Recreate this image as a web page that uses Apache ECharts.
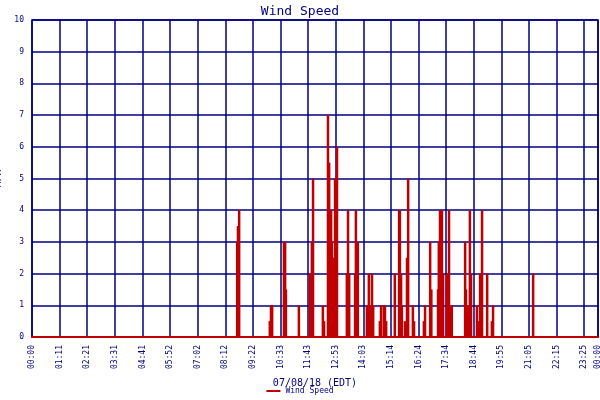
<!DOCTYPE html>
<html>
<head>
<meta charset="utf-8">
<script src="https://cdn.jsdelivr.net/npm/echarts@6/dist/echarts.min.js"></script>
<style>html,body{margin:0;padding:0;background:#fff}#chart{width:600px;height:400px}</style>
</head>
<body>
<div id="chart"></div>
<script>
// minutes after midnight, 07/08/18
var times = [522,524,527, 605,608,611, 641,644,646, 679, 707,710,712,715, 740,743,
    753,756,758,761,763,766,768,771,774,776, 801,804,807, 822,824,827,829,
    852,855,857,860,865,868, 885,888,895,898,901,
    923,934,936,939,941,949,954,956,957, 969,972, 997,1000, 1013,1016,
    1033,1035,1038,1040,1043,1046, 1056,1058,1061,1063,1066,1068,
    1102,1104, 1109,1112,1114,1117, 1132,1135,1140,1142,1145, 1158, 1170,1173, 1275];
var speeds = [3,3.5,4, 0.5,1,1, 3,3,1.5, 1, 2,1,3,5, 1,0.5,
    7,5.5,2,4,3,0.5,2.5,5,3,6, 2,4,2, 2,4,1.5,3,
    1,0.5,2,1,2,1, 0.5,1,1,1,0.5,
    2,4,4,2,1,0.5,2.5,1.5,5, 1,0.5, 0.5,1, 3,1.5,
    1.5,3,4,1.5,4,2, 2,2,4,1,0.5,1,
    3,1.5, 1,1,4,2, 1,0.5,2,2,4, 2, 0.5,1, 2];

var navy = '#000080';
var font = 'DejaVu Sans Mono';
var step = 1440 / 20.5;

function pad(n) { return (n < 10 ? '0' : '') + n; }

var data = [];
for (var i in times) {
    data.push([times[i], speeds[i]]);
}

var chart = echarts.init(document.getElementById('chart'));
chart.setOption({
    backgroundColor: '#fff',
    animation: false,
    title: {
        text: 'Wind Speed', left: 'center', top: 0,
        textStyle: {color: navy, fontFamily: font, fontSize: 13, fontWeight: 'normal'}
    },
    legend: {
        bottom: 0, left: 'center', itemWidth: 14, itemHeight: 2,
        icon: 'rect',
        textStyle: {color: navy, fontFamily: font, fontSize: 8},
        data: ['Wind Speed']
    },
    grid: {left: 32, right: 2, top: 20, bottom: 63, containLabel: false, outerBoundsMode: 'none',
        show: true, borderColor: navy, borderWidth: 1.5},
    xAxis: {
        type: 'value', min: 0, max: 1440, interval: step,
        name: '07/08/18 (EDT)', nameLocation: 'middle', nameGap: 41,
        nameTextStyle: {color: navy, fontFamily: font, fontSize: 10},
        axisLine: {lineStyle: {color: '#c00000', width: 2}},
        axisTick: {show: false},
        axisLabel: {
            rotate: 90, color: navy, fontFamily: font, fontSize: 8, showMaxLabel: true,
            formatter: function(v) {
                var m = Math.ceil(v - 0.01) % 1440;
                return pad(Math.floor(m / 60)) + ':' + pad(m % 60);
            }
        },
        splitLine: {lineStyle: {color: navy, width: 1.5}}
    },
    yAxis: {
        type: 'value', min: 0, max: 10, interval: 1,
        name: 'MPH', nameLocation: 'middle', nameGap: 20,
        nameTextStyle: {color: navy, fontFamily: font, fontSize: 10},
        axisLine: {show: false}, axisTick: {show: false},
        axisLabel: {color: navy, fontFamily: font, fontSize: 8},
        splitLine: {lineStyle: {color: navy, width: 1.5}}
    },
    series: [{
        name: 'Wind Speed',
        type: 'bar',
        barWidth: 2.5,
        barGap: '-100%',
        color: '#c00000',
        data: data
    }]
});
</script>
</body>
</html>
